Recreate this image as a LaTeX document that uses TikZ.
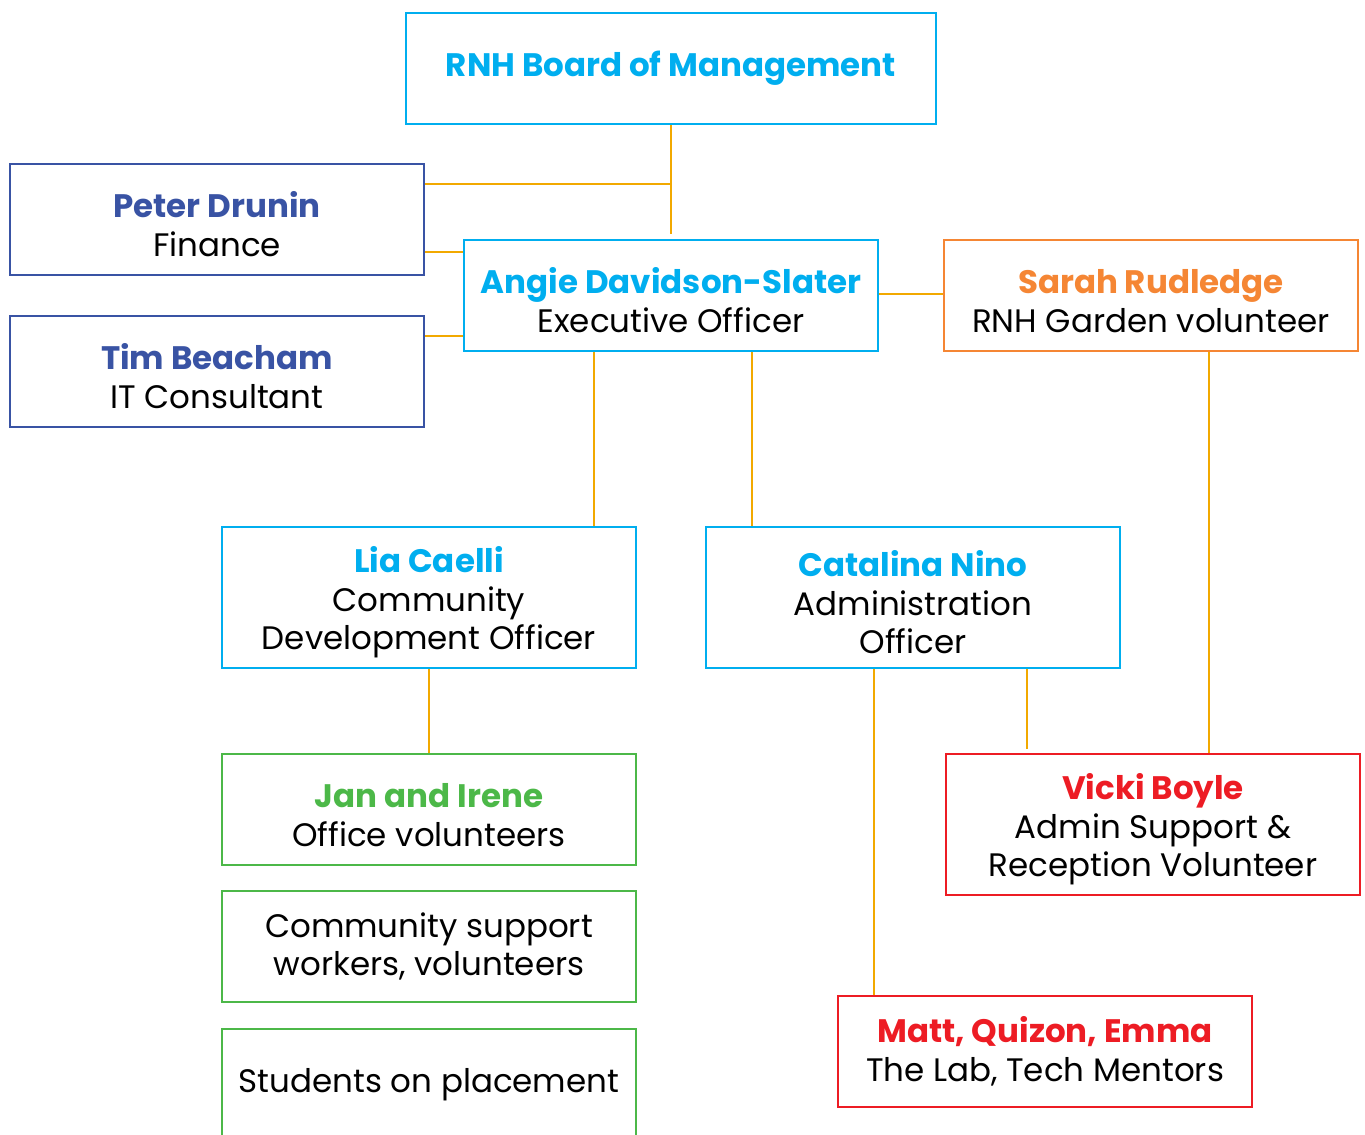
\documentclass[tikz,border=0pt]{standalone}
\usepackage{fontspec}
\setmainfont{Poppins}
\usepackage{tikz}
\usetikzlibrary{positioning}
\definecolor{rnhcyan}{HTML}{00AEEF}
\definecolor{rnhblue}{HTML}{3953A4}
\definecolor{rnhorange}{HTML}{F58634}
\definecolor{rnhgreen}{HTML}{4CB848}
\definecolor{rnhred}{HTML}{ED1C24}
\definecolor{lineorange}{HTML}{F2A900}
\tikzset{
  basic/.style  = {draw, rectangle, line width=1.3pt, inner sep=0pt, align=center,
                   minimum width=8.28cm, minimum height=2.22cm,
                   font=\fontsize{18.5}{22}\selectfont},
  cyanbox/.style   = {basic, draw=rnhcyan},
  bluebox/.style   = {basic, draw=rnhblue},
  orangebox/.style = {basic, draw=rnhorange},
  greenbox/.style  = {basic, draw=rnhgreen},
  redbox/.style    = {basic, draw=rnhred},
  tall/.style      = {minimum height=2.82cm},
  link/.style      = {draw=lineorange, line width=1.1pt}
}
% name line of a box, with a taller strut so the text sits a bit lower
\newcommand\who[2]{\rule{0pt}{1.1em}\textcolor{#1}{\bfseries #2}}

\begin{document}
\begin{tikzpicture}[x=0.02cm, y=-0.02cm]
\useasboundingbox (0,0) rectangle (1365,1135);

\node[cyanbox, minimum width=10.6cm] (board) at (671,68.5) {\textcolor{rnhcyan}{\bfseries RNH Board of Management}};
\node[bluebox] (peter) at (217,219.5) {\who{rnhblue}{Peter Drunin}\\Finance};
\node[bluebox] (tim) at (217,371.5) {\who{rnhblue}{Tim Beacham}\\IT Consultant};
\node[cyanbox] (angie) at (671,295.5) {\who{rnhcyan}{Angie Davidson-Slater}\\Executive Officer};
\node[orangebox] (sarah) at (1151,295.5) {\who{rnhorange}{Sarah Rudledge}\\RNH Garden volunteer};

\node[cyanbox, tall] (lia) at (429,597.5) {\who{rnhcyan}{Lia Caelli}\\Community\\Development Officer};
\node[cyanbox, tall] (cata) at (913,597.5) {\who{rnhcyan}{Catalina Nino}\\Administration\\Officer};

\node[greenbox] (jan) at (429,809.5) {\who{rnhgreen}{Jan and Irene}\\Office volunteers};
\node[greenbox] (comm) at (429,946.5) {Community support\\workers, volunteers};
\node[greenbox] (stud) at (429,1084.5) {Students on placement};

\node[redbox, tall] (vicki) at (1153,824.5) {\who{rnhred}{Vicki Boyle}\\Admin Support \&\\Reception Volunteer};
\node[redbox] (matt) at (1045,1051.5) {\textcolor{rnhred}{\bfseries Matt, Quizon, Emma}\\The Lab, Tech Mentors};

% board and advisers
\coordinate (j1) at (671,184);
\draw[link, shorten >=0.1cm] (board.south) -- (angie.north);
\draw[link] (peter.east |- j1) -- (j1);
\path ([yshift=-0.65cm]peter.east) coordinate (p1);
\draw[link] (p1) -- (p1 -| angie.west);
\path ([yshift=0.71cm]tim.east) coordinate (t1);
\draw[link] (t1) -- (t1 -| angie.west);
\path ([yshift=0.03cm]angie.east) coordinate (a0);
\draw[link] (a0) -- (a0 -| sarah.west);

% officers
\path ([xshift=-1.54cm]angie.south) coordinate (a1);
\path ([xshift=1.62cm]angie.south) coordinate (a2);
\draw[link] (a1) -- (a1 |- lia.north);
\draw[link] (a2) -- (a2 |- cata.north);
\draw[link] (lia.south) -- (jan.north);

% volunteers
\path ([xshift=1.16cm]sarah.south) coordinate (s1);
\path ([xshift=2.28cm]cata.south) coordinate (c1);
\path ([xshift=-0.78cm]cata.south) coordinate (c2);
\draw[link] (s1) -- (s1 |- vicki.north);
\draw[link, shorten >=0.08cm] (c1) -- (c1 |- vicki.north);
\draw[link] (c2) -- (c2 |- matt.north);
\end{tikzpicture}
\end{document}
